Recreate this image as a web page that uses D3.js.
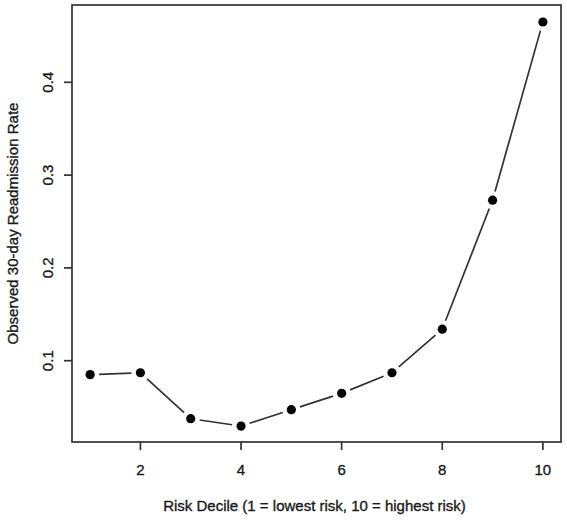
<!DOCTYPE html>
<html>
<head>
<meta charset="utf-8">
<script src="https://cdn.jsdelivr.net/npm/d3@7"></script>
<style>
  body { margin: 0; background: #fff; }
  svg text { font-family: "Liberation Sans", Arial, sans-serif; fill: #1a1a1a; stroke: #1a1a1a; stroke-width: 0.35px; }
</style>
</head>
<body>
<svg id="chart" width="567" height="520"></svg>
<script>
// observed 30-day readmission rate by risk decile
const deciles = [1, 2, 3, 4, 5, 6, 7, 8, 9, 10];
const rates = [0.085, 0.087, 0.0375, 0.0296, 0.0472, 0.0649, 0.087, 0.134, 0.273, 0.465];
const xTicks = [2, 4, 6, 8, 10];
const yTicks = [0.1, 0.2, 0.3, 0.4];

const margin = { left: 72, right: 6, top: 5, bottom: 78 };
const svg = d3.select("#chart");
const width = 567 - margin.left - margin.right;
const height = 520 - margin.top - margin.bottom;

const chart = svg.append("g")
    .attr("transform", "translate(" + margin.left + "," + margin.top + ")");

const xScale = d3.scaleLinear().domain([0.64, 10.36]).range([0, width]);
const yScale = d3.scaleLinear().domain([0.0124, 0.4833]).range([height, 0]);

// box
chart.append("rect")
    .attr("width", width).attr("height", height)
    .attr("fill", "none").attr("stroke", "#333").attr("stroke-width", 1.7);

// x axis
const xAxis = chart.append("g").attr("transform", "translate(0," + height + ")");
xAxis.selectAll("line").data(xTicks).join("line")
    .attr("x1", d => xScale(d)).attr("x2", d => xScale(d))
    .attr("y1", 0).attr("y2", 8)
    .attr("stroke", "#333").attr("stroke-width", 1.7);
xAxis.selectAll("text").data(xTicks).join("text")
    .attr("x", d => xScale(d)).attr("y", 33)
    .attr("text-anchor", "middle").attr("font-size", 15)
    .text(d => d);

// y axis
const yAxis = chart.append("g");
yAxis.selectAll("line").data(yTicks).join("line")
    .attr("x1", 0).attr("x2", -8)
    .attr("y1", d => yScale(d)).attr("y2", d => yScale(d))
    .attr("stroke", "#333").attr("stroke-width", 1.7);
yAxis.selectAll("text").data(yTicks).join("text")
    .attr("transform", d => "translate(-19," + yScale(d) + ") rotate(-90)")
    .attr("text-anchor", "middle").attr("font-size", 15)
    .text(d => d3.format(".1f")(d));

// axis titles
svg.append("text")
    .attr("x", margin.left + width / 2 - 2).attr("y", 511)
    .attr("text-anchor", "middle").attr("font-size", 15)
    .text("Risk Decile (1 = lowest risk, 10 = highest risk)");
svg.append("text")
    .attr("transform", "translate(18," + (margin.top + height / 2) + ") rotate(-90)")
    .attr("text-anchor", "middle").attr("font-size", 15)
    .text("Observed 30-day Readmission Rate");

// line segments with gaps around the points (type = "b")
const pts = deciles.map((d, i) => [xScale(d), yScale(rates[i])]);
const gap = 9;
const segs = d3.pairs(pts).map(([a, b]) => {
    const dx = b[0] - a[0], dy = b[1] - a[1];
    const len = Math.hypot(dx, dy);
    const ux = dx / len, uy = dy / len;
    return [a[0] + ux * gap, a[1] + uy * gap, b[0] - ux * gap, b[1] - uy * gap];
});
chart.selectAll(".seg").data(segs).join("line")
    .attr("class", "seg")
    .attr("x1", d => d[0]).attr("y1", d => d[1])
    .attr("x2", d => d[2]).attr("y2", d => d[3])
    .attr("stroke", "#333").attr("stroke-width", 1.7);

chart.selectAll(".pt").data(pts).join("circle")
    .attr("class", "pt")
    .attr("cx", d => d[0]).attr("cy", d => d[1])
    .attr("r", 4.6).attr("fill", "#000");
</script>
</body>
</html>
